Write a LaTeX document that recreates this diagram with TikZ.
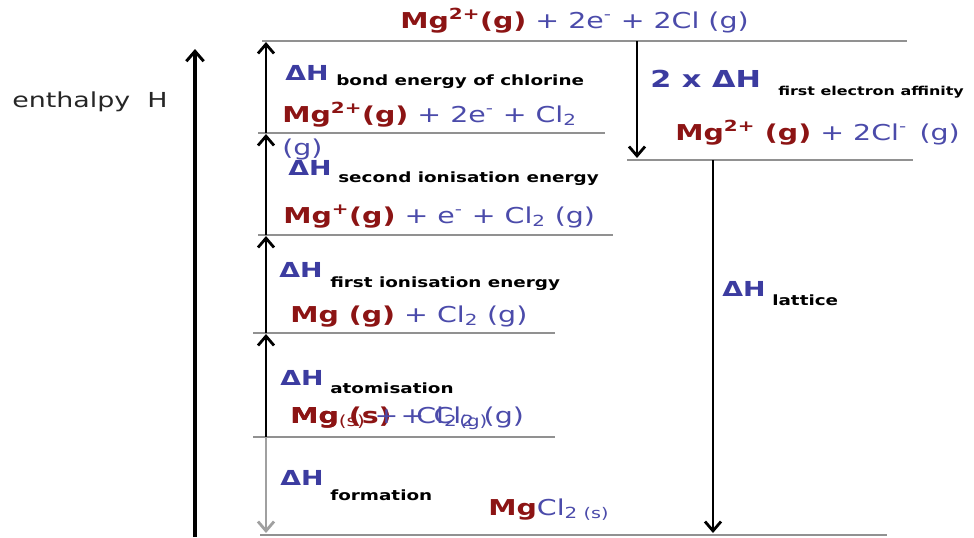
\documentclass[tikz,border=0pt]{standalone}
\usepackage{fontspec}
\setmainfont{DejaVu Sans}[FakeStretch=1.3]
\usetikzlibrary{arrows.meta}
\definecolor{mgred}{RGB}{140,20,20}
\definecolor{clblue}{RGB}{75,75,170}
\definecolor{dhblue}{RGB}{60,60,160}
\definecolor{levelgray}{RGB}{145,145,145}
\definecolor{formgray}{RGB}{160,160,160}
\newcommand{\mgb}[1]{\textcolor{mgred}{\bfseries #1}}
\newcommand{\clb}[1]{\textcolor{clblue}{#1}}
\newcommand{\dH}{ΔH}
\tikzset{
  formula/.style={anchor=base west, inner sep=0pt, font=\fontsize{16.4}{19}\selectfont},
  dhlabel/.style={anchor=base west, inner sep=0pt, text=dhblue, font=\bfseries\fontsize{15.5}{18}\selectfont},
  sublabel/.style={anchor=base west, inner sep=0pt, font=\bfseries\fontsize{10.6}{12}\selectfont},
  level/.style={draw=levelgray, line width=1.4pt},
  step arrow/.style={line width=2.1pt, -{Straight Barb[length=7pt, width=12pt, line width=2.1pt]}},
}
\begin{document}
\begin{tikzpicture}[x=0.75pt, y=-0.75pt]
\useasboundingbox (0,0) rectangle (974,537);

% energy levels
\coordinate (top w) at (262,41);   \coordinate (top e) at (907,41);
\coordinate (bond w) at (258,133); \coordinate (bond e) at (605,133);
\coordinate (ea w) at (627,160);   \coordinate (ea e) at (913,160);
\coordinate (ie2 w) at (258,235);  \coordinate (ie2 e) at (613,235);
\coordinate (ie1 w) at (253,333);  \coordinate (ie1 e) at (555,333);
\coordinate (at w) at (253,437);   \coordinate (at e) at (555,437);
\coordinate (bot w) at (260,535);  \coordinate (bot e) at (887,535);
\foreach \lv in {top,bond,ea,ie2,ie1,at,bot}
  \draw[level] (\lv\space w) -- (\lv\space e);

% enthalpy axis
\coordinate (axis s) at (195,537);
\coordinate (axis e) at (195,49);
\draw[line width=2.4pt, -{Straight Barb[length=7.5pt, width=13pt, line width=2.2pt]}] (axis s) -- (axis e);
\node[formula, font=\fontsize{15.5}{18}\selectfont, text=black!85] (enth) at (12,107) {enthalpy\ \ H};

% step arrows
\coordinate (s1) at (266,133); \coordinate (e1) at (266,42);
\coordinate (s2) at (266,235); \coordinate (e2) at (266,134);
\coordinate (s3) at (266,333); \coordinate (e3) at (266,236);
\coordinate (s4) at (266,437); \coordinate (e4) at (266,334);
\coordinate (s5) at (266,437); \coordinate (e5) at (266,533);
\coordinate (s6) at (637,41);  \coordinate (e6) at (637,158);
\coordinate (s7) at (713,160); \coordinate (e7) at (713,533);
\draw[step arrow] (s1) -- (e1);
\draw[step arrow] (s2) -- (e2);
\draw[step arrow] (s3) -- (e3);
\draw[step arrow] (s4) -- (e4);
\draw[step arrow, formgray] (s5) -- (e5);
\draw[step arrow] (s6) -- (e6);
\draw[step arrow] (s7) -- (e7);

% species
\node[formula] (topf) at (400,28) {\mgb{Mg\textsuperscript{2+}(g)} \clb{+ 2e\textsuperscript{-} + 2Cl (g)}};
\node[formula] (bondf) at (282,122) {\mgb{Mg\textsuperscript{2+}(g)} \clb{+ 2e\textsuperscript{-} + Cl\textsubscript{2}}};
\node[formula] (bondg) at (282,155) {\clb{(g)}};
\node[formula] (ie2f) at (283,223) {\mgb{Mg\textsuperscript{+}(g)} \clb{+ e\textsuperscript{-} + Cl\textsubscript{2} (g)}};
\node[formula] (ie1f) at (290,322) {\mgb{Mg (g)} \clb{+ Cl\textsubscript{2} (g)}};
\node[formula] (atf) at (290,423) {\mgb{Mg (s)} \clb{+ Cl\textsubscript{2} (g)}};
\node[formula] (atf2) at (290,423) {\mgb{Mg}\textcolor{mgred}{\textsubscript{(s)}} \clb{+ \ Cl\textsubscript{2\,(g)}}};
\node[formula] (formf) at (488,515) {\mgb{Mg}\clb{Cl\textsubscript{2 {\fontsize{11}{13}\selectfont(s)}}}};
\node[formula] (eaf) at (675,140) {\mgb{Mg\textsuperscript{2+} (g)} \clb{+ 2Cl\textsuperscript{-} \,(g)}};

% enthalpy changes
\node[dhlabel] (dh1) at (285,80) {\dH};
\node[sublabel] (dh1s) at (336,85) {bond energy of chlorine};
\node[dhlabel] (dh2) at (288,175) {\dH};
\node[sublabel] (dh2s) at (338,182) {second ionisation energy};
\node[dhlabel] (dh3) at (279,277) {\dH};
\node[sublabel] (dh3s) at (330,287) {first ionisation energy};
\node[dhlabel] (dh4) at (280,385) {\dH};
\node[sublabel] (dh4s) at (330,393) {atomisation};
\node[dhlabel] (dh5) at (280,485) {\dH};
\node[sublabel] (dh5s) at (330,500) {formation};
\node[dhlabel, font=\bfseries\fontsize{17.5}{20}\selectfont] (dh6) at (650,87) {2 x \dH};
\node[sublabel, font=\bfseries\fontsize{9.2}{11}\selectfont] (dh6s) at (778,95) {first electron affinity};
\node[dhlabel] (dh7) at (722,296) {\dH};
\node[sublabel] (dh7s) at (772,305) {lattice};
\end{tikzpicture}
\end{document}
